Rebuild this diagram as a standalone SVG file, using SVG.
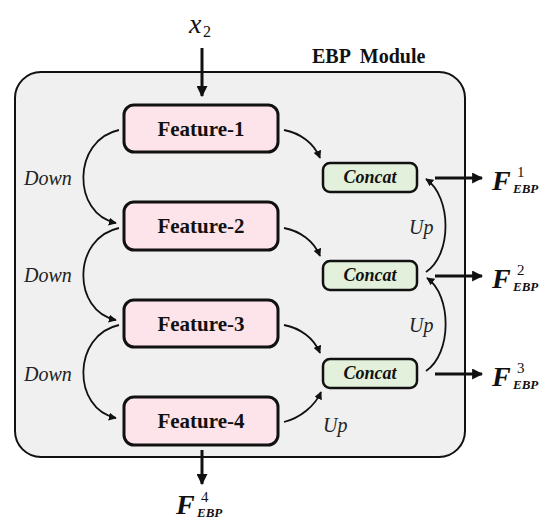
<svg xmlns="http://www.w3.org/2000/svg" width="550" height="527" viewBox="0 0 550 527">
<style>
text{font-family:"Liberation Serif","Times New Roman","DejaVu Serif",serif;fill:#111}
.outer{fill:#f0f0f0;stroke:#111;stroke-width:2}
.feat{fill:#fde4ea;stroke:#111;stroke-width:3}
.cat{fill:#e3f1dc;stroke:#111;stroke-width:2.5}
.ft{font-weight:bold;font-size:21px;text-anchor:middle}
.ct{font-weight:bold;font-style:italic;font-size:18px;text-anchor:middle}
.lbl{font-style:italic;font-size:20px;fill:#222}
.cur{fill:none;stroke:#111;stroke-width:1.8}
.thick{fill:none;stroke:#111;stroke-width:3}
.F{font-weight:bold;font-style:italic;font-size:28px}
.sup{font-size:15px}
.sub{font-weight:bold;font-style:italic;font-size:13px}
</style>
<defs>
<marker id="ah" viewBox="0 0 10 10" refX="9" refY="5" markerWidth="8" markerHeight="8" markerUnits="userSpaceOnUse" orient="auto">
<path d="M0,0 L10,5 L0,10 z" fill="#111"/>
</marker>
<marker id="ahb" viewBox="0 0 10 10" refX="9" refY="5" markerWidth="11" markerHeight="11" markerUnits="userSpaceOnUse" orient="auto">
<path d="M0,0 L10,5 L0,10 z" fill="#111"/>
</marker>
</defs>

<g id="module">
<rect class="outer" x="15" y="72" width="450" height="385" rx="26" ry="26"/>
<text x="312" y="63" font-weight="bold" font-size="20" word-spacing="5">EBP Module</text>
</g>

<g id="connectors">
<line class="thick" x1="202" y1="48" x2="202" y2="96" marker-end="url(#ahb)"/>
<line class="thick" x1="202" y1="450" x2="202" y2="484" marker-end="url(#ahb)"/>
<line class="thick" x1="435" y1="178" x2="482" y2="178" marker-end="url(#ahb)"/>
<line class="thick" x1="435" y1="276" x2="482" y2="276" marker-end="url(#ahb)"/>
<line class="thick" x1="435" y1="374" x2="482" y2="374" marker-end="url(#ahb)"/>
<path class="cur" d="M119,130 C72,140 72,214 116,223" marker-end="url(#ah)"/>
<path class="cur" d="M119,228 C72,238 72,311 116,320" marker-end="url(#ah)"/>
<path class="cur" d="M119,325 C72,335 72,409 116,418" marker-end="url(#ah)"/>
<path class="cur" d="M284,130 C300,133 314,143 320,158" marker-end="url(#ah)"/>
<path class="cur" d="M284,228 C300,231 314,241 320,256" marker-end="url(#ah)"/>
<path class="cur" d="M284,325 C300,328 314,338 320,353" marker-end="url(#ah)"/>
<path class="cur" d="M284,422 C300,418 315,406 321,392" marker-end="url(#ah)"/>
<path class="cur" d="M426,272 C452,255 452,197 426,179" marker-end="url(#ah)"/>
<path class="cur" d="M426,371 C452,354 452,295 427,278" marker-end="url(#ah)"/>
<text class="lbl" x="24" y="185">Down</text>
<text class="lbl" x="24" y="282">Down</text>
<text class="lbl" x="24" y="381">Down</text>
<text class="lbl" x="409" y="234">Up</text>
<text class="lbl" x="409" y="332">Up</text>
<text class="lbl" x="323" y="432">Up</text>
</g>

<g id="input">
<text x="189" y="33" font-style="italic" font-size="28">x</text>
<text x="203" y="37" font-size="16">2</text>
</g>

<g id="feature1"><rect class="feat" x="124" y="105" width="154" height="47" rx="10"/><text class="ft" x="201" y="136">Feature-1</text></g>
<g id="feature2"><rect class="feat" x="124" y="202" width="154" height="48" rx="10"/><text class="ft" x="201" y="233">Feature-2</text></g>
<g id="feature3"><rect class="feat" x="124" y="300" width="154" height="47" rx="10"/><text class="ft" x="201" y="331">Feature-3</text></g>
<g id="feature4"><rect class="feat" x="124" y="397" width="154" height="48" rx="10"/><text class="ft" x="201" y="428">Feature-4</text></g>

<g id="concat1"><rect class="cat" x="323" y="163" width="94" height="29" rx="7"/><text class="ct" x="370" y="183">Concat</text></g>
<g id="concat2"><rect class="cat" x="323" y="261" width="94" height="29" rx="7"/><text class="ct" x="370" y="281">Concat</text></g>
<g id="concat3"><rect class="cat" x="323" y="359" width="94" height="29" rx="7"/><text class="ct" x="370" y="379">Concat</text></g>

<g id="out1"><text class="F" x="492" y="190">F</text><text class="sup" x="517" y="177">1</text><text class="sub" x="513" y="193">EBP</text></g>
<g id="out2"><text class="F" x="492" y="288">F</text><text class="sup" x="517" y="275">2</text><text class="sub" x="513" y="291">EBP</text></g>
<g id="out3"><text class="F" x="492" y="386">F</text><text class="sup" x="517" y="373">3</text><text class="sub" x="513" y="389">EBP</text></g>
<g id="out4"><text class="F" x="176" y="514">F</text><text class="sup" x="201" y="502">4</text><text class="sub" x="197" y="517">EBP</text></g>
</svg>
